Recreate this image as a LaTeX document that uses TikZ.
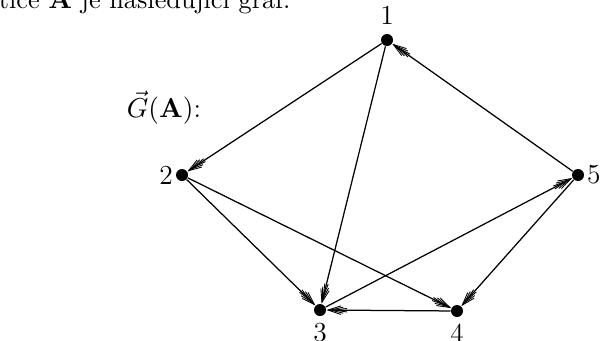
\documentclass[tikz,border=0pt]{standalone}
\usetikzlibrary{arrows.meta}
\begin{document}
\begin{tikzpicture}[x=0.4pt,y=-0.4pt,font=\fontsize{11}{13}\selectfont,
  vtx/.style={circle,fill=black,inner sep=0pt,minimum size=4.8pt},
  fan/.tip={Straight Barb[length=5.2pt,width=1.4pt,line width=0.35pt,sep=-5.2pt]
            Straight Barb[length=5.2pt,width=2.4pt,line width=0.35pt,sep=-5.2pt]
            Straight Barb[length=5.2pt,width=3.4pt,line width=0.35pt]},
  edge/.style={line width=0.5pt,-fan}]
\useasboundingbox (0,0) rectangle (611,340);
\clip (0,0) rectangle (611,340);
\node[anchor=base east,inner sep=0pt,font=\fontsize{10.5}{12}\selectfont] (top) at (291,8) {matice $\mathbf{A}$ je následující graf.};
\node (lab) at (164,108) {$\vec{G}(\mathbf{A})$:};
\node[vtx,label={[label distance=0pt]above:1}] (v1) at (387,40) {};
\node[vtx,label={[label distance=-2.5pt]left:2}] (v2) at (182,175) {};
\node[vtx,label={[label distance=-1pt]below:3}] (v3) at (320,310) {};
\node[vtx,label={[label distance=-1pt]below:4}] (v4) at (457,311) {};
\node[vtx,label={[label distance=-2.5pt]right:5}] (v5) at (578,175) {};
\draw[edge] (v1) -- (v2);
\draw[edge] (v1) -- (v3);
\draw[edge] (v5) -- (v1);
\draw[edge] (v2) -- (v3);
\draw[edge] (v2) -- (v4);
\draw[edge] (v4) -- (v3);
\draw[edge] (v3) -- (v5);
\draw[edge] (v5) -- (v4);
\end{tikzpicture}
\end{document}
